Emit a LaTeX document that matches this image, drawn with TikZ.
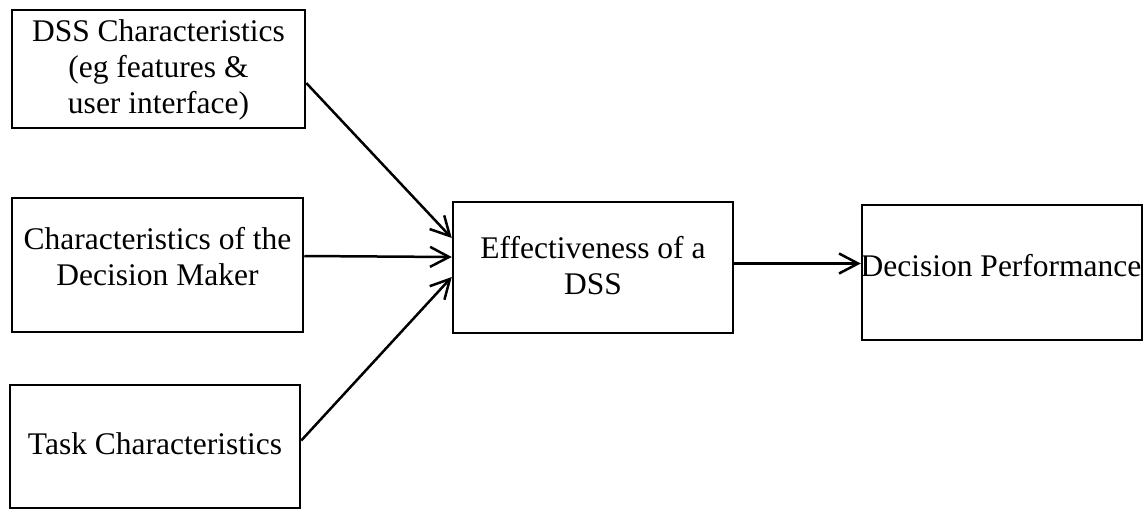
\documentclass[tikz,border=0pt]{standalone}
\usepackage{fontspec}
\setmainfont{Liberation Serif}
\usetikzlibrary{arrows.meta}
\begin{document}
\begin{tikzpicture}[x=1pt,y=-1pt,
  box/.style={draw, line width=2.5pt, inner sep=0pt},
  lbl/.style={align=center, inner sep=0pt, font=\fontsize{31.5}{36}\selectfont},
  link/.style={line width=2.5pt, -{Straight Barb[length=19pt,width=20pt,line width=2.5pt]}}]
\useasboundingbox (0,0) rectangle (1148,517);

% input factors
\node[box, minimum width=293pt, minimum height=118pt] (dss) at (158.5,69) {};
\node[lbl] (dsstext) at (158.5,70) {DSS Characteristics\\(eg features \&\\user interface)};

\node[box, minimum width=291pt, minimum height=134pt] (dm) at (157.5,265) {};
\node[lbl] (dmtext) at (157.5,257) {Characteristics of the\\Decision Maker};

\node[box, minimum width=290pt, minimum height=123pt] (task) at (155,446.5) {};
\node[lbl] (tasktext) at (155,444) {Task Characteristics};

% mediator and outcome
\node[box, minimum width=280pt, minimum height=131pt] (eff) at (593,267.5) {};
\node[lbl] (efftext) at (593,266) {Effectiveness of a\\DSS};

\node[box, minimum width=280pt, minimum height=135pt] (perf) at (1002,272.5) {};
\node[lbl] (perftext) at (1001,266) {Decision Performance};

% connectors
\draw[link] ([yshift=-14pt]dss.east) -- ([yshift=29.5pt]eff.west);
\draw[link] ([yshift=9pt]dm.east) -- ([yshift=10.5pt]eff.west);
\draw[link] ([yshift=6pt]task.east) -- ([yshift=-9.5pt]eff.west);
\draw[link] ([yshift=4pt]eff.east) -- ([yshift=9pt]perf.west);
\end{tikzpicture}
\end{document}
